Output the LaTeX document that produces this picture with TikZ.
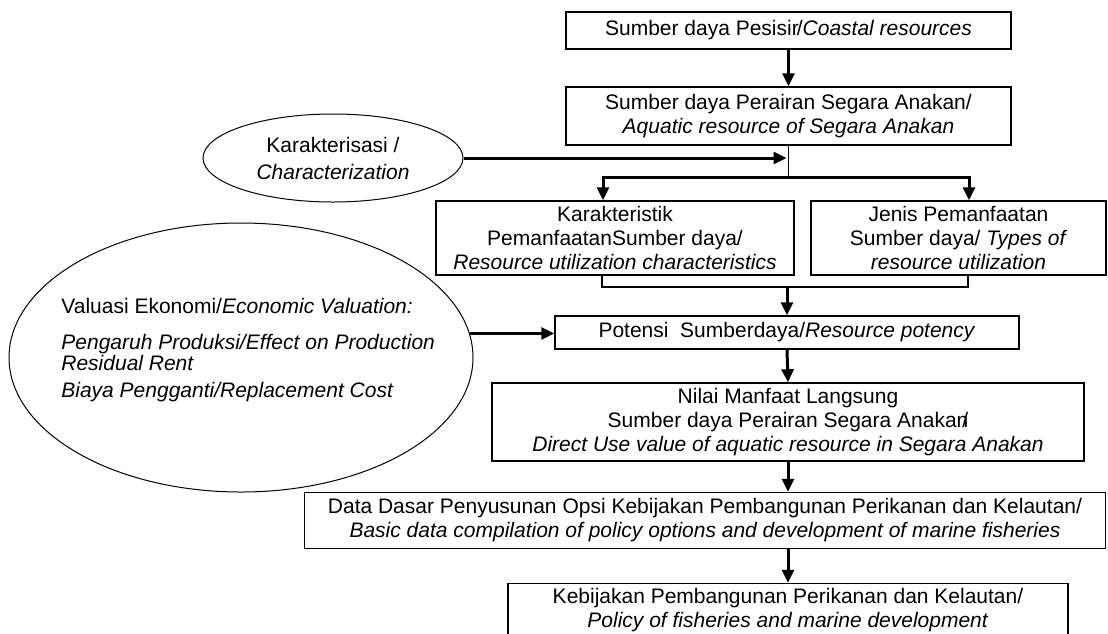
\documentclass[tikz,border=0pt]{standalone}
\usepackage{fontspec}
\setmainfont{Liberation Sans}
\usetikzlibrary{arrows.meta,shapes.geometric}
\begin{document}
\begin{tikzpicture}[x=0.5pt,y=-0.5pt,
  font=\fontsize{10.5pt}{12pt}\selectfont,
  box/.style={draw,line width=0.75pt,rectangle,align=center,inner sep=0pt},
  oval/.style={draw,line width=0.5pt,ellipse,align=center,inner sep=0pt},
  arr/.style={line width=1.5pt,-{Triangle[length=6.5pt,width=6pt]}},
  dblarr/.style={line width=1.5pt,{Triangle[length=6.5pt,width=6pt]}-{Triangle[length=6.5pt,width=6pt]}},
  thinline/.style={line width=0.6pt}]
\useasboundingbox (0,0) rectangle (1108,633);
\clip (0,0) rectangle (1108,633);

\node[box,minimum width=222.5pt,minimum height=18.5pt] (b1) at (788.5,30.5)
  {Sumber daya Pesisir\kern-1pt/\textit{Coastal resources}};
\node[box,minimum width=222.5pt,minimum height=29pt] (b2) at (788.5,116)
  {Sumber daya Perairan Segara Anakan/\\\textit{Aquatic resource of Segara Anakan}};
\node[oval,minimum width=130pt,minimum height=44pt] (e1) at (333,158)
  {Karakterisasi /\\[1.5pt]\textit{Characterization}};
\node[box,minimum width=179pt,minimum height=37pt] (b3) at (615,238)
  {Karakteristik\\PemanfaatanSumber daya/\\\textit{Resource utilization characteristics}};
\node[box,minimum width=147.5pt,minimum height=37pt] (b4) at (958.5,238)
  {Jenis Pemanfaatan\\Sumber daya/ \textit{Types of}\\\textit{resource utilization}};
\node[box,minimum width=232pt,minimum height=16.5pt] (b5) at (787,332.5)
  {Potensi\ \ Sumberdaya/\textit{Resource potency}};
\node[oval,minimum width=232pt,minimum height=134.5pt] (val) at (241,357.5) {};
\node[anchor=north west,align=left,inner sep=0pt] (valtxt) at (61,298)
  {Valuasi Ekonomi/\textit{Economic Valuation:}\\[6pt]
   \textit{Pengaruh Produksi/Effect on Production}\\[-1.5pt]
   \textit{Residual Rent}\\[1.5pt]
   \textit{Biaya Pengganti/Replacement Cost}};
\node[box,minimum width=296pt,minimum height=39pt] (b6) at (788,422)
  {Nilai Manfaat Langsung\\Sumber daya Perairan Segara Anakan\kern-3pt/\\\textit{Direct Use value of aquatic resource in Segara Anakan}};
\node[box,minimum width=400.5pt,minimum height=28pt] (b7) at (705,520.5)
  {Data Dasar Penyusunan Opsi Kebijakan Pembangunan Perikanan dan Kelautan/\\\textit{Basic data compilation of policy options and development of marine fisheries}};
\node[box,minimum width=280pt,minimum height=27pt] (b8) at (788,610.5)
  {Kebijakan Pembangunan Perikanan dan Kelautan/\\\textit{Policy of fisheries and marine development}};

\coordinate (j) at (788.5,177);
\coordinate (bl) at (603,177);
\coordinate (br) at (969,177);
\coordinate (cl) at (602,287);
\coordinate (cr) at (968,287);

\draw[arr] (b1.south) -- (b2.north);
\draw[thinline] (b2.south) -- (j);
\draw[arr,shorten >=1pt] (e1.east) -- (e1.east -| j);
\draw[dblarr] (b3.north -| bl) -- (bl) -- (br) -- (b4.north -| br);
\draw[thinline] (b3.south -| cl) -- (cl) -- (cr) -- (b4.south -| cr);
\draw[arr] (b5.north |- cl) -- (b5.north);
\draw[arr] (val.6.3) -- (val.6.3 -| b5.west);
\draw[arr] (b5.south) -- (b6.north);
\draw[arr] (b6.south) -- (b6.south |- b7.north);
\draw[arr] (b6.south |- b7.south) -- (b8.north);
\end{tikzpicture}
\end{document}
